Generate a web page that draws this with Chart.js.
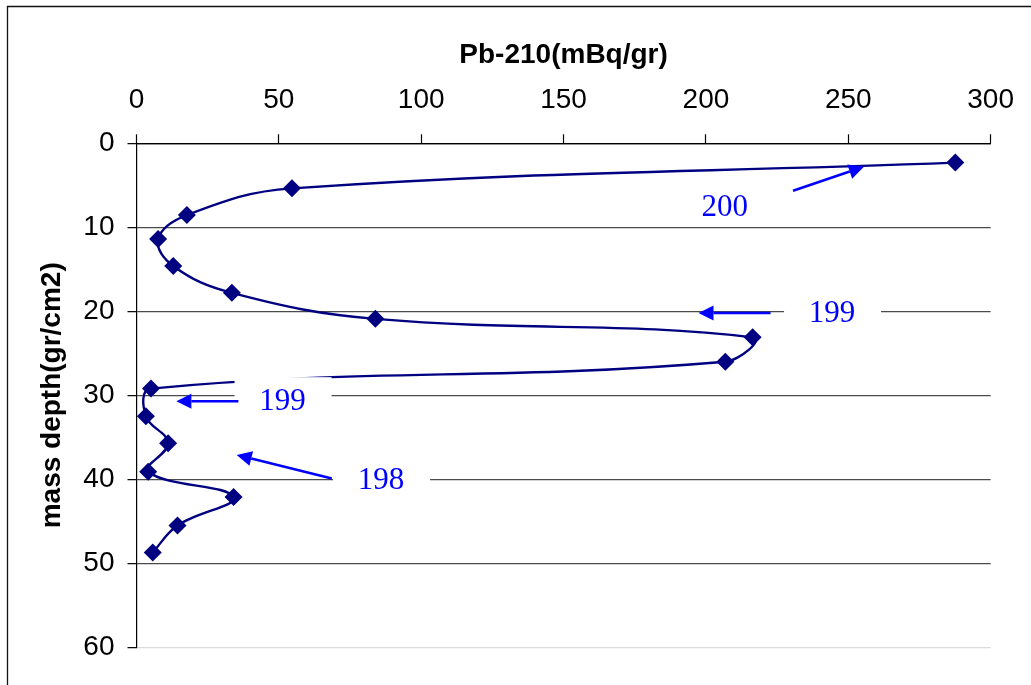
<!DOCTYPE html>
<html>
<head>
<meta charset="utf-8">
<script src="https://cdn.jsdelivr.net/npm/chart.js@4/dist/chart.umd.min.js"></script>
<style>
  html, body { margin: 0; padding: 0; background: #fff; }
  #wrap { position: relative; width: 1031px; height: 685px; }
</style>
</head>
<body>
<div id="wrap"><canvas id="c" width="1031" height="685"></canvas></div>
<script>
// ---- data ----
const pb210 = [287.6, 54.6, 17.7, 7.6, 12.9, 33.5, 83.9, 216.4, 206.8, 5.1, 3.3, 11.1, 4.1, 34.1, 14.4, 5.7];
const massDepth = [2.3, 5.36, 8.54, 11.4, 14.6, 17.8, 20.9, 23.1, 26.0, 29.2, 32.5, 35.7, 39.1, 42.1, 45.5, 48.7];
const xTicks = [0, 50, 100, 150, 200, 250, 300];
const yTicks = [0, 10, 20, 30, 40, 50, 60];

// annotation labels (in data units)
const noteText = ['200', '199', '199', '198'];
const noteX = [206.6, 244.3, 51.3, 85.9];
const noteY = [7.6, 20.2, 30.7, 40.1];
const noteBox = [false, true, true, true];
const arrowFromX = [230.6, 222.7, 35.8, 68.6];
const arrowFromY = [5.64, 20.2, 30.7, 39.9];
const arrowToX = [255.5, 197.4, 14.0, 35.2];
const arrowToY = [2.79, 20.2, 30.7, 37.1];

const points = pb210.map((v, i) => ({ x: v, y: massDepth[i] }));

const frame = {
  id: 'frame',
  beforeDraw(chart) {
    const ctx = chart.ctx;
    ctx.save();
    ctx.fillStyle = '#fff';
    ctx.fillRect(0, 0, chart.width, chart.height);
    ctx.strokeStyle = '#111';
    ctx.lineWidth = 1.3;
    ctx.beginPath();
    ctx.moveTo(7.5, chart.height + 5);
    ctx.lineTo(7.5, 6.5);
    ctx.lineTo(chart.width + 5, 6.5);
    ctx.stroke();
    ctx.restore();
  }
};

const notes = {
  id: 'notes',
  afterDatasetsDraw(chart) {
    const ctx = chart.ctx;
    const xs = chart.scales.x, ys = chart.scales.y;
    ctx.save();
    ctx.font = '31px "Liberation Serif", "Times New Roman", serif';
    ctx.textAlign = 'center';
    ctx.textBaseline = 'middle';
    for (let i = 0; i < noteText.length; i++) {
      const cx = xs.getPixelForValue(noteX[i]);
      const cy = ys.getPixelForValue(noteY[i]);
      if (noteBox[i]) {
        ctx.fillStyle = '#fff';
        ctx.fillRect(cx - 48, cy - 24, 97, 48);
      }
      ctx.fillStyle = '#0000FF';
      ctx.fillText(noteText[i], cx, cy + 1);
      // arrow
      const x1 = xs.getPixelForValue(arrowFromX[i]), y1 = ys.getPixelForValue(arrowFromY[i]);
      const x2 = xs.getPixelForValue(arrowToX[i]), y2 = ys.getPixelForValue(arrowToY[i]);
      const ang = Math.atan2(y2 - y1, x2 - x1);
      const hl = 15, hw = 7.5;
      const bx = x2 - hl * Math.cos(ang), by = y2 - hl * Math.sin(ang);
      ctx.strokeStyle = '#0000FF';
      ctx.lineWidth = 2.6;
      ctx.beginPath();
      ctx.moveTo(x1, y1);
      ctx.lineTo(bx, by);
      ctx.stroke();
      ctx.beginPath();
      ctx.moveTo(x2, y2);
      ctx.lineTo(bx + hw * Math.sin(ang), by - hw * Math.cos(ang));
      ctx.lineTo(bx - hw * Math.sin(ang), by + hw * Math.cos(ang));
      ctx.closePath();
      ctx.fillStyle = '#0000FF';
      ctx.fill();
    }
    ctx.restore();
  }
};

const tickFont = { family: '"Liberation Sans", Arial, sans-serif', size: 28 };
const titleFont = { family: '"Liberation Sans", Arial, sans-serif', size: 28, weight: 'bold' };

new Chart(document.getElementById('c'), {
  type: 'scatter',
  data: {
    datasets: [{
      data: points,
      showLine: true,
      tension: 0.4,
      borderColor: '#000080',
      backgroundColor: '#000080',
      borderWidth: 2.4,
      pointStyle: 'rectRot',
      pointRadius: 9,
      pointBorderWidth: 0,
      pointBackgroundColor: '#000080'
    }]
  },
  options: {
    responsive: false,
    animation: false,
    events: [],
    layout: { padding: { left: 0, top: 0, right: 35.7, bottom: 37.7 } },
    plugins: { legend: { display: false }, tooltip: { enabled: false } },
    scales: {
      x: {
        type: 'linear',
        position: 'top',
        min: 0, max: 300,
        afterBuildTicks: s => { s.ticks = xTicks.map(v => ({ value: v })); },
        afterFit: s => { s.height = 143.3; },
        border: { display: true, color: '#000', width: 1.2 },
        grid: { drawOnChartArea: false, drawTicks: true, tickLength: 9, tickColor: '#000', tickWidth: 1.2 },
        ticks: { color: '#000', font: tickFont, padding: 17, maxRotation: 0 },
        title: { display: true, text: 'Pb-210(mBq/gr)', color: '#000', font: titleFont, padding: { top: 38, bottom: 0 } }
      },
      y: {
        type: 'linear',
        reverse: true,
        min: 0, max: 60,
        afterBuildTicks: s => { s.ticks = yTicks.map(v => ({ value: v })); },
        afterFit: s => { s.width = 136.5; },
        border: { display: true, color: '#000', width: 1.2 },
        grid: {
          color: c => (c.tick && c.tick.value === 60) ? '#dcdcdc' : (c.tick && c.tick.value === 0 ? '#000' : '#4a4a4a'),
          lineWidth: 1.3,
          drawTicks: true, tickLength: 9, tickColor: '#000', tickWidth: 1.2
        },
        ticks: { color: '#000', font: tickFont, padding: 13 },
        title: { display: true, text: 'mass depth(gr/cm2)', color: '#000', font: titleFont, padding: { top: 35, bottom: 0 } }
      }
    }
  },
  plugins: [frame, notes]
});
</script>
</body>
</html>
